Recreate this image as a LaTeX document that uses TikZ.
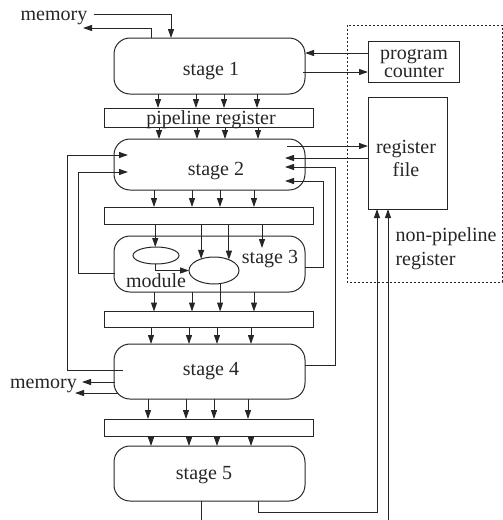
\documentclass[tikz,border=0pt]{standalone}
\usepackage{fontspec}
\setmainfont{Liberation Serif}
\usetikzlibrary{arrows.meta,calc,shapes.geometric}
\begin{document}
\begin{tikzpicture}[x=1pt,y=-1pt,
  color=black!85, line width=1pt,
  every node/.style={font=\fontsize{20}{20}\selectfont},
  arr/.style={-{Triangle[length=9pt,width=6pt]}},
  stagebox/.style={draw, rounded corners=16pt, minimum width=191pt, inner sep=0pt, outer sep=0pt},
  regbox/.style={draw, minimum width=209pt, inner sep=0pt, outer sep=0pt},
  plainbox/.style={draw, inner sep=0pt, outer sep=0pt},
  modell/.style={draw, ellipse, inner sep=0pt, outer sep=0pt},
  lbl/.style={anchor=base, inner sep=0pt}]
\useasboundingbox (0,0) rectangle (503,520);

% stages and pipeline registers
\node[stagebox, minimum height=56pt] (s1) at (209.5,66) {};
\node[regbox, minimum height=19pt] (pr1) at (208.5,117.5) {};
\node[stagebox, minimum height=51pt] (s2) at (209.5,164.5) {};
\node[regbox, minimum height=17pt] (pr2) at (208.5,215.5) {};
\node[stagebox, minimum height=56pt] (s3) at (209.5,264) {};
\node[regbox, minimum height=16pt] (pr3) at (208.5,319.5) {};
\node[stagebox, minimum height=55pt] (s4) at (209.5,371.5) {};
\node[regbox, minimum height=17pt] (pr4) at (208.5,427.5) {};
\node[stagebox, minimum height=55pt] (s5) at (209.5,473.5) {};

% modules in stage 3
\node[modell, minimum width=46pt, minimum height=17pt] (e1) at (156,255.5) {};
\node[modell, minimum width=50pt, minimum height=27pt] (e2) at (214,270.5) {};

% program counter and register file
\node[plainbox, minimum width=91pt, minimum height=41pt] (pc) at (413.5,61.5) {};
\node[plainbox, minimum width=79pt, minimum height=112pt] (rf) at (407.5,153) {};

% non-pipeline region
\draw[line width=0.8pt, dash pattern=on 2pt off 2pt] (347,25) rectangle (502,282);

% labels
\node[lbl] (t1) at (211,75) {stage 1};
\node[lbl] (tp) at (211,124) {pipeline register};
\node[lbl] (t2) at (216,175) {stage 2};
\node[lbl] (t3) at (270,263) {stage 3};
\node[lbl] (tm) at (156,287) {module};
\node[lbl] (t4) at (211,375) {stage 4};
\node[lbl] (t5) at (204,479) {stage 5};
\node[lbl] (mem1) at (54,20) {memory};
\node[lbl] (mem2) at (43.5,388) {memory};
\node[lbl, align=center, font=\fontsize{20}{18}\selectfont] (pct) at (414,77.5) {program\\counter};
\node[lbl, align=center, font=\fontsize{20}{23}\selectfont] (rft) at (406,176.5) {register\\file};
\node[lbl, align=left, anchor=base west, font=\fontsize{20}{24}\selectfont] (npt) at (395,265) {non-pipeline\\register};

% memory at stage 1
\coordinate (m1out) at (83,28);
\draw[arr] ($(mem1.base east)+(6,-6)$) -| ($(s1.north west)+(57,0)$);
\draw[arr] ($(s1.north west)+(37,0)$) |- (m1out);

% stage 1 <-> program counter
\draw[arr] ($(pc.north west)+(0,12)$) -- ($(s1.north east)+(0,15)$);
\draw[arr] ($(s1.north east)+(-2,34)$) -- ($(pc.north west)+(0,31)$);

% stage 1 -> pr1 -> stage 2
\foreach \dx in {44,82,110,143}{
  \draw[arr] ($(s1.south west)+(\dx,0)$) -- ($(pr1.north west)+(\dx+10,0)$);
}
\foreach \dx in {45,83,111,144}{
  \draw[arr] ($(pr1.south west)+(\dx+10,0)$) -- ($(s2.north west)+(\dx,0)$);
}

% stage 2 <-> register file
\draw[arr] ($(s2.north east)+(-18,7)$) -- ($(rf.north west)+(0,49)$);
\draw[arr] ($(rf.north west)+(0,61)$) -- ($(s2.north east)+(-20,19)$);

% stage 2 -> pr2
\foreach \dx in {40,78,106,140}{
  \draw[arr] ($(s2.south west)+(\dx,0)$) -- ($(pr2.north west)+(\dx+10,0)$);
}
% pr2 -> stage 3
\draw[arr] (pr2.south -| e1.95) -- (e1.95);
\draw[arr] (pr2.south -| e2.138) -- (e2.138);
\draw[arr] (pr2.south -| e2.36) -- (e2.36);
\coordinate (s3in) at ($(s3.north west)+(148,12)$);
\draw[arr] (pr2.south -| s3in) -- (s3in);
\draw[arr] (e1.265) |- (e2.west);

% stage 3 -> pr3
\foreach \dx in {40,78,140}{
  \draw[arr] ($(s3.south west)+(\dx,0)$) -- ($(pr3.north west)+(\dx+10,0)$);
}
\draw[arr] (e2.-65) -- (e2.-65 |- pr3.north);

% pr3 -> stage 4
\foreach \dx in {37,75,103,137}{
  \draw[arr] ($(pr3.south west)+(\dx+10,0)$) -- ($(s4.north west)+(\dx,0)$);
}
% stage 4 -> pr4
\foreach \dx in {34,72,100,134}{
  \draw[arr] ($(s4.south west)+(\dx,0)$) -- ($(pr4.north west)+(\dx+10,0)$);
}
% pr4 -> stage 5
\foreach \dx in {37,75,103,137}{
  \draw[arr] ($(pr4.south west)+(\dx+10,0)$) -- ($(s5.north west)+(\dx,0)$);
}

% right feedback into stage 2
\draw[arr] ($(s4.north east)+(0,21)$) -| (335,167) -- ($(s2.north east)+(-20,28)$);
\draw[arr] ($(s3.north east)+(0,31)$) -| (323,181) -- ($(s2.north east)+(-20,42)$);

% left feedback into stage 2
\draw[arr] ($(s4.north west)+(9,26)$) -| (67,155) -- ($(s2.north west)+(14,16)$);
\draw[arr] ($(s3.north west)+(1,37)$) -| (78,172) -- ($(s2.north west)+(14,33)$);

% memory at stage 4
\coordinate (m4a) at (82,382);
\coordinate (m4b) at (75,393);
\draw[arr] ($(s4.north west)+(1,38)$) -- (m4a);
\draw[arr] ($(s4.north west)+(3.5,49)$) -- (m4b);

% stage 5 outputs
\coordinate (out5) at (201,520);
\coordinate (in5) at (388,520);
\draw ($(s5.south west)+(87,0)$) -- (out5);
\draw[arr] ($(s5.south west)+(144,0)$) |- (377,512) -- ($(rf.south west)+(9,0)$);
\draw[arr] (in5) -- ($(rf.south west)+(20,0)$);
\end{tikzpicture}
\end{document}
